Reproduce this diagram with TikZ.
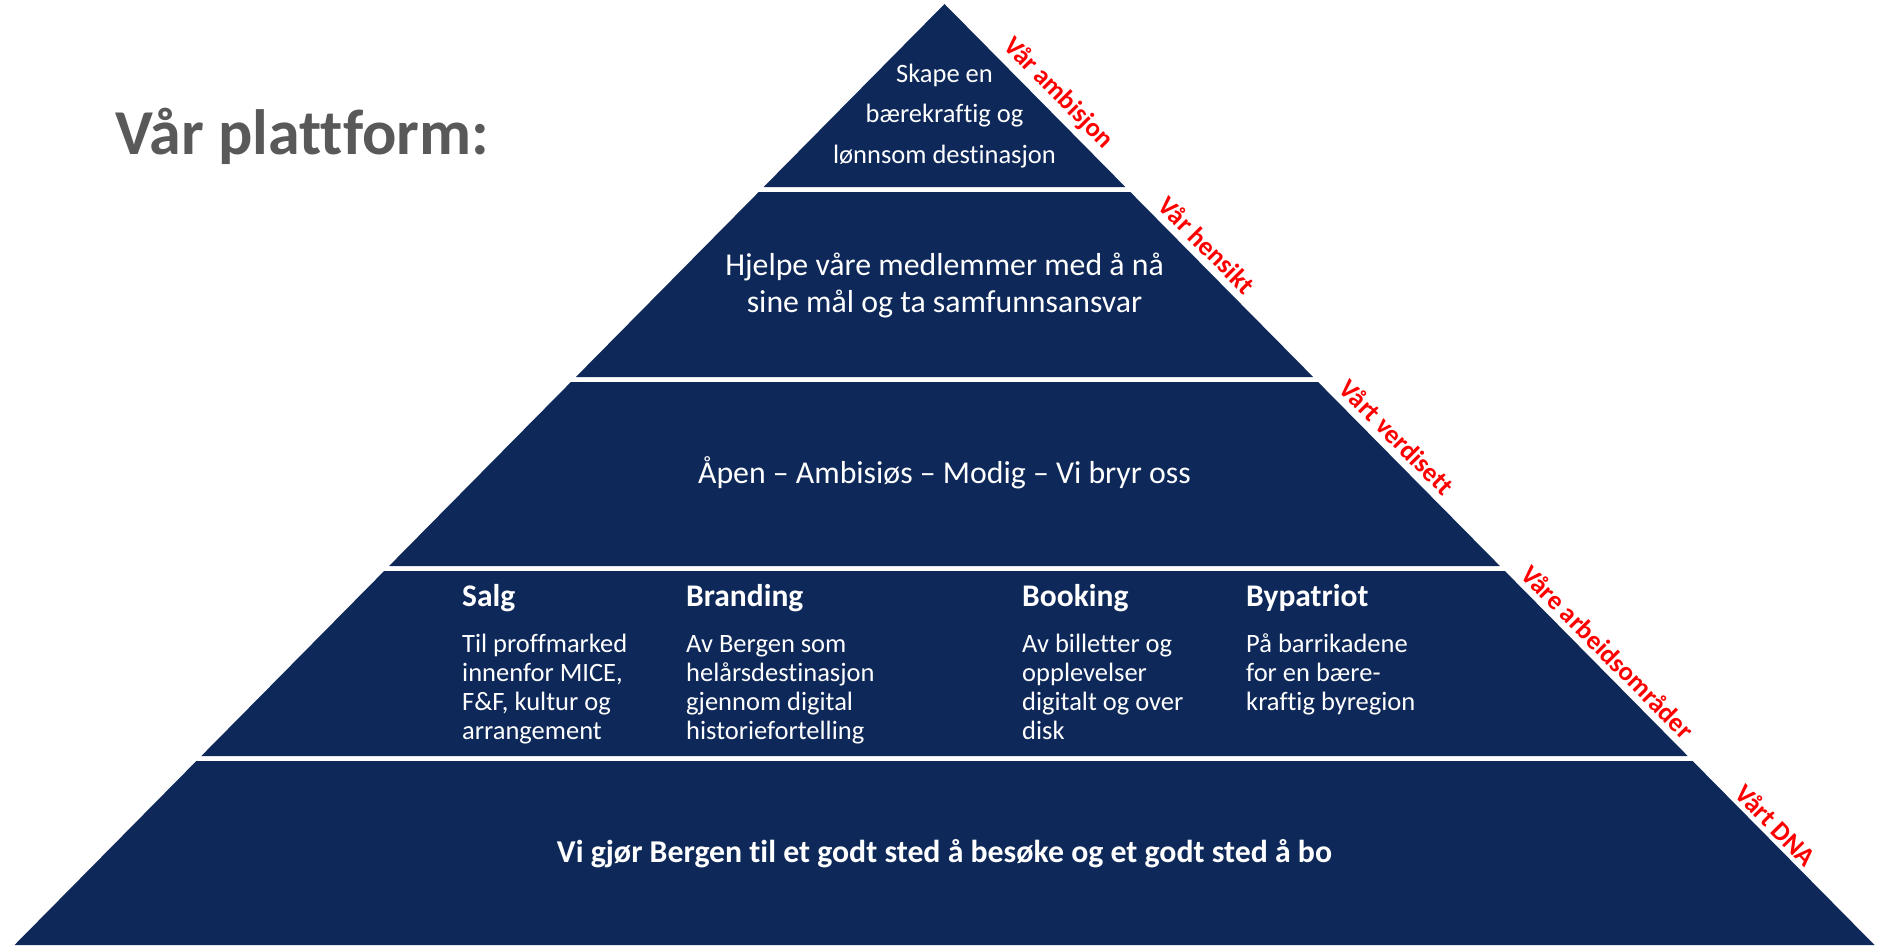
\documentclass[tikz,border=0pt]{standalone}
\usepackage{fontspec}
\setmainfont{Carlito}[Ligatures=NoCommon]
\usetikzlibrary{positioning}

\definecolor{navy}{RGB}{14,41,89}
\definecolor{titlegray}{RGB}{89,89,89}

\begin{document}
\begin{tikzpicture}[x=1pt,y=-1pt]
\tikzstyle{tier}=[fill=navy]
\tikzstyle{tiertext}=[text=white,inner sep=0pt,align=center,anchor=base]
\tikzstyle{head}=[text=white,inner sep=0pt,anchor=base west,font=\fontsize{31.5}{36}\selectfont\bfseries]
\tikzstyle{area}=[text=white,inner sep=0pt,align=left,anchor=base west,font=\fontsize{26.5}{29}\selectfont]
\tikzstyle{layer}=[text=red,inner sep=0pt,rotate=-45.3,font=\fontsize{26.5}{31}\selectfont\bfseries]
\def \cx {944.5}
\def \slope {0.9883}
\useasboundingbox (0,0) rectangle (1878,945);
% pyramid
\fill[tier] (\cx,4) -- ({\cx+\slope*183},187) -- ({\cx-\slope*183},187) -- cycle;
\foreach \ya/\yb in {192/377,382/566,571/756,761/945}
  \fill[tier] ({\cx-\slope*(\ya-4)},\ya) -- ({\cx+\slope*(\ya-4)},\ya)
    -- ({\cx+\slope*(\yb-4)},\yb) -- ({\cx-\slope*(\yb-4)},\yb) -- cycle;
% title
\node[text=titlegray,inner sep=0pt,anchor=base west,font=\fontsize{64}{76}\selectfont\bfseries] (title) at (115,154) {Vår plattform:};
% tier texts (base = last line)
\node[tiertext,font=\fontsize{26.5}{40.5}\selectfont] (ambisjon) at (\cx,163) {Skape en\\bærekraftig og\\lønnsom destinasjon};
\node[tiertext,font=\fontsize{31.8}{36.5}\selectfont] (hensikt) at (\cx,312) {Hjelpe våre medlemmer med å nå\\sine mål og ta samfunnsansvar};
\node[tiertext,font=\fontsize{31.8}{36.5}\selectfont] (verdier) at (\cx,483) {Åpen – Ambisiøs – Modig – Vi bryr oss};
\node[head] (salg) at (462,606) {Salg};
\node[head] (branding) at (686,606) {Branding};
\node[head] (booking) at (1022,606) {Booking};
\node[head] (bypatriot) at (1246,606) {Bypatriot};
\node[area] (salgtxt) at (462,739) {Til proffmarked\\innenfor MICE,\\F\&F, kultur og\\arrangement};
\node[area] (brandingtxt) at (686,739) {Av Bergen som\\helårsdestinasjon\\gjennom digital\\historiefortelling};
\node[area] (bookingtxt) at (1022,739) {Av billetter og\\opplevelser\\digitalt og over\\disk};
\node[area] (bypatriottxt) at (1246,710) {På barrikadene\\for en bære-\\kraftig byregion};
\node[tiertext,font=\fontsize{31.8}{38}\selectfont\bfseries] (dna) at (\cx,862) {Vi gjør Bergen til et godt sted å besøke og et godt sted å bo};
% labels along the right side
\node[layer] (l1) at (1058,93) {Vår ambisjon};
\node[layer] (l2) at (1207,245) {Vår hensikt};
\node[layer] (l3) at (1397,437) {Vårt verdisett};
\node[layer] (l4) at (1608,652) {Våre arbeidsområder};
\node[layer] (l5) at (1776,825) {Vårt DNA};
\end{tikzpicture}
\end{document}
